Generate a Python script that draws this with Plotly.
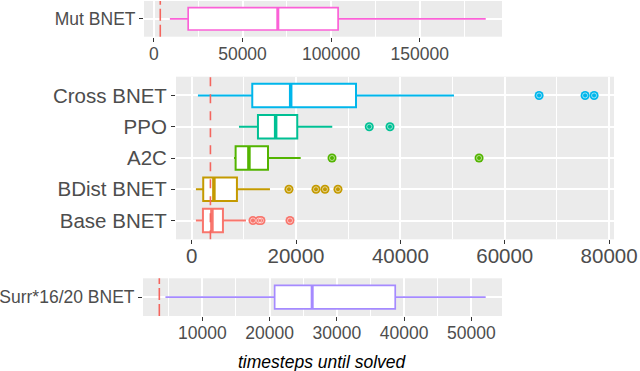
import plotly.graph_objects as go

# threshold (dashed red line), same in every panel
threshold = 3600

# top panel
mut_name = "Mut BNET"
mut_stats = [9020, 19350, 69930, 103950, 187250]  # low, q1, median, q3, high

# middle panel, bottom -> top
mid_names = ["Base BNET", "BDist BNET", "A2C", "PPO", "Cross BNET"]
mid_low = [820, 820, 8110, 9070, 1210]
mid_q1 = [2170, 2220, 8430, 12710, 11620]
mid_med = [3890, 4270, 10980, 16100, 18980]
mid_q3 = [6000, 8680, 14630, 20240, 31500]
mid_high = [10410, 15010, 20900, 26950, 50280]
mid_outliers = [
    [11750, 12900, 13290, 18850],
    [18650, 23830, 25550, 28040],
    [26900, 55080],
    [34040, 38010],
    [66580, 75400, 77120],
]

# bottom panel
surr_name = "Surr*16/20 BNET"
surr_stats = [4510, 20750, 26330, 38680, 52130]

mid_colors = ["#F8766D", "#C49A00", "#53B400", "#00C094", "#00B6EB"]
mut_color = "#FB61D7"
surr_color = "#A58AFF"
red = "#F4655E"

FONT = "Liberation Sans, Arial, sans-serif"
W, H = 640, 371


def px_x(a, b):
    return [a / W, b / W]


def px_y(top, bottom):
    return [1 - bottom / H, 1 - top / H]


def xrange_of(values):
    lo, hi = min(values), max(values)
    span = hi - lo
    return [lo - 0.05 * span, hi + 0.05 * span]


fig = go.Figure()


def add_box(pos, stats, color, xa, ya, lw, mw):
    low, q1, med, q3, high = stats
    fig.add_trace(go.Box(
        y=[pos], q1=[q1], median=[med], q3=[q3],
        lowerfence=[low], upperfence=[high],
        orientation="h", width=0.75, whiskerwidth=0,
        fillcolor="white", line=dict(color=color, width=lw),
        boxpoints=False, showlegend=False, hoverinfo="skip",
        xaxis=xa, yaxis=ya,
    ))
    fig.add_trace(go.Scatter(
        x=[med, med], y=[pos - 0.375, pos + 0.375], mode="lines",
        line=dict(color=color, width=mw), showlegend=False,
        hoverinfo="skip", xaxis=xa, yaxis=ya,
    ))


add_box(1, mut_stats, mut_color, "x", "y", 1.7, 3)
for i, name in enumerate(mid_names):
    stats = [mid_low[i], mid_q1[i], mid_med[i], mid_q3[i], mid_high[i]]
    add_box(i + 1, stats, mid_colors[i], "x2", "y2", 2, 3.5)
    outs = mid_outliers[i]
    fig.add_trace(go.Scatter(
        x=outs, y=[i + 1] * len(outs), mode="markers",
        marker=dict(color=mid_colors[i], size=9, line=dict(width=0)),
        showlegend=False, hoverinfo="skip", xaxis="x2", yaxis="y2",
    ))
    fig.add_trace(go.Scatter(
        x=outs, y=[i + 1] * len(outs), mode="markers",
        marker=dict(symbol="circle-open", color="rgba(255,255,255,0.55)",
                    size=5, line=dict(width=1)),
        showlegend=False, hoverinfo="skip", xaxis="x2", yaxis="y2",
    ))
add_box(1, surr_stats, surr_color, "x3", "y3", 1.7, 3)

for xr, dash in (("x", "12px,4px"), ("x2", "9px,8px"), ("x3", "12px,4px")):
    yr = xr.replace("x", "y")
    fig.add_shape(type="line", xref=xr, yref=yr + " domain",
                  x0=threshold, x1=threshold, y0=0, y1=1, layer="above",
                  line=dict(color=red, width=1.6, dash=dash))

small = dict(family=FONT, size=17.5, color="#4D4D4D")
big = dict(family=FONT, size=20.5, color="#4D4D4D")


def xaxis(domain, anchor, rng, dtick, font, standoff):
    return dict(domain=domain, anchor=anchor, range=rng, dtick=dtick, tick0=0,
                tickformat="d", ticklabelstandoff=standoff,
                showgrid=True, gridcolor="white", gridwidth=2, zeroline=False,
                ticks="outside", ticklen=4, tickwidth=1.3, tickcolor="#333333",
                tickfont=font, showline=False, automargin=False,
                minor=dict(dtick=dtick / 2, tick0=0, showgrid=True,
                           gridcolor="white", gridwidth=1, ticks=""))


def yaxis(domain, anchor, n, names, font):
    return dict(domain=domain, anchor=anchor, range=[0.4, n + 0.6],
                tickvals=list(range(1, n + 1)), ticktext=names,
                showgrid=True, gridcolor="white", gridwidth=2, zeroline=False,
                ticks="outside", ticklen=4, tickwidth=1.3, tickcolor="#333333",
                tickfont=font, automargin=False, fixedrange=True)


mid_all = mid_low + mid_high + [v for o in mid_outliers for v in o] + [threshold]

fig.update_layout(
    width=W, height=H,
    margin=dict(l=0, r=0, t=0, b=0),
    paper_bgcolor="white", plot_bgcolor="#EBEBEB",
    xaxis=xaxis(px_x(144, 502), "y", xrange_of(mut_stats + [threshold]), 50000, small, -3),
    yaxis=yaxis(px_y(1, 36.7), "x", 1, [mut_name], small),
    xaxis2=xaxis(px_x(176, 614), "y2", xrange_of(mid_all), 20000, big, -6),
    yaxis2=yaxis(px_y(76.7, 239.3), "x2", 5, mid_names, big),
    xaxis3=xaxis(px_x(143, 502), "y3", xrange_of(surr_stats + [threshold]), 10000, small, -3),
    yaxis3=yaxis(px_y(278.3, 316), "x3", 1, [surr_name], small),
    annotations=[dict(
        text="<i>timesteps until solved</i>", xref="paper", yref="paper",
        x=322.5 / W, y=1 - 362 / H, showarrow=False,
        font=dict(family=FONT, size=17.5, color="black"),
        xanchor="center", yanchor="middle",
    )],
)

# the page has a default 8px body margin; drop it so the figure fills the window
fig.write_html("out.html", config={"displayModeBar": False},
               post_script="document.body.style.margin='0px';"
                           "document.body.style.overflow='hidden';")
